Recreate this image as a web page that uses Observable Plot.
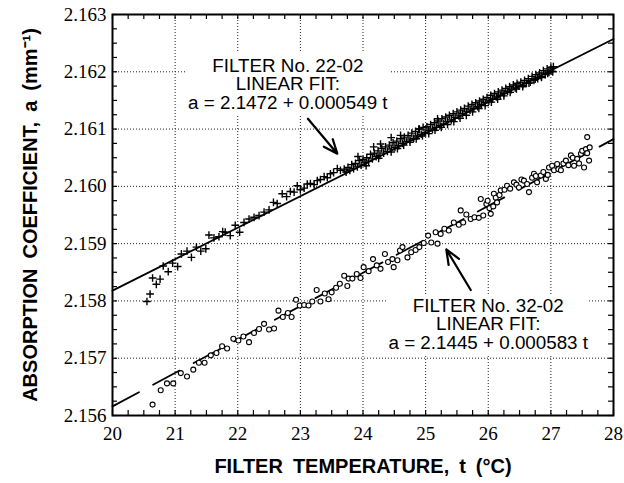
<!DOCTYPE html>
<html><head><meta charset="utf-8">
<script src="https://cdn.jsdelivr.net/npm/d3@7"></script>
<script src="https://cdn.jsdelivr.net/npm/@observablehq/plot@0.6"></script>
<style>html,body{margin:0;padding:0;background:#fff}</style>
</head><body><div id="chart"></div>
<script>
// ---- tick labels ----
const xTicks = [20, 21, 22, 23, 24, 25, 26, 27, 28];
const yTicks = [2.156, 2.157, 2.158, 2.159, 2.160, 2.161, 2.162, 2.163];

// ---- linear fits ----
const fits = [
  {name: "22-02", a0: 2.1472, b: 0.000549},
  {name: "32-02", a0: 2.1445, b: 0.000583}
];

// ---- measurements: filter 22-02 (+) [t, a] ----
const filter22 = [
[20.55,2.15799],[20.60,2.15812],[20.64,2.15840],[20.70,2.15829],[20.76,2.15838],[20.81,2.15861],[20.89,2.15851],[20.96,2.15866],
[21.04,2.15860],[21.10,2.15882],[21.19,2.15887],[21.26,2.15876],[21.34,2.15894],[21.41,2.15887],[21.49,2.15891],[21.54,2.15915],
[21.62,2.15910],[21.70,2.15912],[21.76,2.15921],[21.80,2.15920],[21.88,2.15914],[21.96,2.15932],[22.03,2.15920],[22.10,2.15937],
[22.18,2.15943],[22.26,2.15946],[22.34,2.15949],[22.42,2.15955],[22.50,2.15959],[22.57,2.15972],[22.63,2.15970],[22.71,2.15987],
[22.78,2.15982],[22.84,2.15991],[22.90,2.15990],[22.95,2.16001],[23.00,2.15994],[23.06,2.15997],[23.11,2.16004],[23.16,2.16005],
[23.22,2.16003],[23.27,2.16010],[23.32,2.16012],[23.38,2.16017],[23.43,2.16015],[23.48,2.16022],[23.53,2.16024],[23.59,2.16031],
[23.64,2.16028],
[23.70,2.16030],[23.73,2.16025],[23.76,2.16033],[23.79,2.16028],[23.82,2.16038],[23.85,2.16031],[23.88,2.16040],[23.91,2.16034],
[23.92,2.16052],[23.94,2.16045],[23.97,2.16037],[24.00,2.16047],[24.03,2.16041],[24.05,2.16036],[24.06,2.16050],[24.09,2.16044],
[24.12,2.16056],[24.15,2.16048],[24.17,2.16069],[24.18,2.16058],[24.21,2.16052],[24.24,2.16062],[24.25,2.16049],[24.27,2.16054],
[24.28,2.16074],[24.30,2.16066],[24.33,2.16058],[24.36,2.16069],[24.39,2.16061],[24.42,2.16072],[24.45,2.16065],[24.45,2.16060],
[24.45,2.16085],[24.48,2.16076],[24.51,2.16068],[24.54,2.16079],[24.55,2.16066],[24.57,2.16071],[24.60,2.16083],[24.60,2.16089],
[24.63,2.16075],[24.65,2.16072],[24.66,2.16086],[24.69,2.16078],[24.72,2.16089],[24.75,2.16081],[24.75,2.16077],[24.78,2.16093],
[24.81,2.16084],[24.84,2.16096],[24.85,2.16083],[24.87,2.16088],[24.89,2.16100],[24.90,2.16100],[24.93,2.16091],[24.95,2.16088],
[24.96,2.16103],[24.99,2.16094],[25.02,2.16104],[25.05,2.16097],[25.05,2.16092],[25.08,2.16108],[25.11,2.16100],[25.14,2.16111],
[25.15,2.16098],[25.17,2.16103],[25.19,2.16118],[25.20,2.16114],[25.23,2.16106],[25.25,2.16103],[25.26,2.16118],[25.29,2.16109],
[25.32,2.16121],[25.35,2.16113],[25.35,2.16108],[25.38,2.16124],[25.41,2.16116],[25.44,2.16127],[25.45,2.16113],[25.47,2.16120],
[25.50,2.16130],[25.53,2.16123],[25.55,2.16119],[25.56,2.16133],[25.59,2.16127],[25.62,2.16136],[25.65,2.16130],[25.65,2.16124],
[25.68,2.16140],[25.71,2.16133],[25.74,2.16143],[25.75,2.16130],[25.77,2.16136],[25.80,2.16146],[25.83,2.16139],[25.85,2.16136],
[25.86,2.16149],[25.89,2.16143],[25.92,2.16152],[25.95,2.16146],[25.95,2.16141],[25.98,2.16155],[26.01,2.16149],[26.04,2.16159],
[26.05,2.16147],[26.07,2.16152],[26.10,2.16162],[26.13,2.16156],[26.15,2.16152],[26.16,2.16165],[26.19,2.16159],[26.22,2.16168],
[26.25,2.16162],[26.25,2.16158],[26.28,2.16171],[26.31,2.16166],[26.34,2.16174],[26.35,2.16164],[26.37,2.16169],[26.40,2.16177],
[26.43,2.16172],[26.45,2.16170],[26.46,2.16180],[26.49,2.16175],[26.52,2.16182],[26.55,2.16176],[26.55,2.16174],[26.58,2.16185],
[26.61,2.16180],[26.64,2.16188],[26.65,2.16180],[26.67,2.16182],[26.70,2.16192],[26.73,2.16185],[26.75,2.16187],[26.76,2.16195],
[26.79,2.16188],[26.82,2.16198],[26.85,2.16192],[26.85,2.16190],[26.88,2.16202],[26.91,2.16195],[26.94,2.16205],[26.95,2.16197],
[26.97,2.16199],[27.00,2.16208],[27.02,2.16201],[27.03,2.16200],[27.04,2.16209]
];

// ---- measurements: filter 32-02 (o) [t, a] ----
const filter32 = [
[20.64,2.15619],[20.77,2.15644],[20.87,2.15656],[20.97,2.15656],[21.09,2.15674],[21.19,2.15668],[21.29,2.15680],[21.38,2.15692],
[21.47,2.15692],[21.57,2.15705],[21.66,2.15709],[21.75,2.15721],[21.83,2.15717],[21.93,2.15734],[22.01,2.15731],[22.09,2.15738],
[22.18,2.15728],[22.26,2.15744],[22.34,2.15751],[22.42,2.15760],[22.50,2.15750],[22.58,2.15752],[22.65,2.15783],[22.72,2.15772],
[22.80,2.15779],[22.86,2.15772],[22.93,2.15802],[22.99,2.15792],[23.06,2.15793],[23.13,2.15792],[23.19,2.15799],[23.26,2.15819],
[23.32,2.15799],[23.39,2.15813],[23.45,2.15803],[23.50,2.15815],[23.57,2.15823],[23.63,2.15830],[23.70,2.15844],[23.75,2.15826],
[23.77,2.15839],[23.83,2.15839],[23.90,2.15847],[23.96,2.15840],[24.01,2.15859],[24.09,2.15852],[24.16,2.15873],[24.22,2.15862],
[24.28,2.15856],[24.35,2.15882],[24.40,2.15868],[24.47,2.15873],[24.49,2.15859],[24.55,2.15871],[24.59,2.15888],[24.63,2.15894],
[24.71,2.15876],[24.77,2.15885],[24.84,2.15889],[24.90,2.15894],[24.97,2.15901],[25.04,2.15914],[25.09,2.15902],[25.16,2.15920],
[25.19,2.15900],[25.24,2.15917],[25.30,2.15926],[25.37,2.15923],[25.45,2.15937],[25.53,2.15933],[25.56,2.15958],[25.60,2.15937],
[25.65,2.15951],[25.72,2.15943],[25.78,2.15946],[25.85,2.15945],[25.88,2.15978],[25.92,2.15949],[25.97,2.15969],[25.99,2.15975],
[26.02,2.15962],[26.04,2.15952],[26.08,2.15965],[26.09,2.15987],[26.12,2.15980],[26.14,2.15972],[26.18,2.15985],[26.20,2.15993],
[26.26,2.15994],[26.30,2.16001],[26.35,2.15996],[26.41,2.16007],[26.45,2.16003],[26.49,2.15998],[26.53,2.16012],[26.57,2.16010],
[26.62,2.16004],[26.65,2.15990],[26.70,2.16015],[26.73,2.16022],[26.76,2.16018],[26.78,2.16007],[26.84,2.16019],[26.88,2.16025],
[26.92,2.16013],[26.95,2.16020],[26.97,2.16033],[27.02,2.16036],[27.05,2.16028],[27.10,2.16039],[27.12,2.16030],[27.16,2.16028],
[27.20,2.16040],[27.24,2.16045],[27.28,2.16037],[27.32,2.16054],[27.35,2.16050],[27.37,2.16036],[27.42,2.16048],[27.45,2.16040],
[27.48,2.16057],[27.50,2.16062],[27.53,2.16033],[27.56,2.16065],[27.58,2.16086],[27.58,2.16058],[27.61,2.16045],[27.62,2.16068]
];

// ---- annotation texts ----
const noteText = [
  "FILTER No. 22-02\nLINEAR FIT:\na = 2.1472 + 0.000549 t",
  "FILTER No. 32-02\nLINEAR FIT:\na = 2.1445 + 0.000583 t"
];
// annotation anchors (data units): label centre, arrow tail/head, white box behind label
const noteAnchor = [
  {lx: 22.80, la: 2.16178, tx: 23.12, ta: 2.16118, hx: 23.59, ha: 2.16057, bx1: 21.18, bx2: 24.44, by1: 2.16125, by2: 2.16234},
  {lx: 26.00, la: 2.15759, tx: 25.72, ta: 2.15819, hx: 25.33, ha: 2.15890, bx1: 24.38, bx2: 27.60, by1: 2.15703, by2: 2.15809}
];

const xTitle = "FILTER\u2002TEMPERATURE,\u2002t\u2002(°C)";
const yTitle = "ABSORPTION\u2002COEFFICIENT,\u2002a\u2002(mm\u207B\u00B9)";

// ---- layout ----
const W = 624, H = 483, ML = 112, MR = 11, MT = 14, MB = 68;
const xDom = [20, 28], yDom = [2.156, 2.163];
const perPxX = (xDom[1] - xDom[0]) / (W - ML - MR);
const perPxY = (yDom[1] - yDom[0]) / (H - MT - MB);
const TICK = 5;
const xMinor = d3.range(0, 33).map(i => xDom[0] + i * 0.25);
const yMinor = d3.range(0, 29).map(i => yDom[0] + i * 0.00025);
const notes = noteText.map((s, i) => ({label: s, ...noteAnchor[i]}));
const fitPts = f => xDom.map(t => ({t, a: f.a0 + f.b * t}));

const serif = "'Liberation Serif','Times New Roman',Times,serif";
const sans = "'Liberation Sans',Arial,Helvetica,sans-serif";

const chart = Plot.plot({
  width: W, height: H,
  marginLeft: ML, marginRight: MR, marginTop: MT, marginBottom: MB,
  style: {fontFamily: serif, fontSize: "19px", color: "#000", background: "#fff", overflow: "visible"},
  x: {domain: xDom, ticks: xTicks, tickFormat: d => String(d), tickSize: 0, tickPadding: 11, label: null},
  y: {domain: yDom, ticks: yTicks, tickFormat: d3.format(".3f"), tickSize: 0, tickPadding: 6, label: null},
  marks: [
    Plot.ruleX(xTicks.slice(1, -1), {stroke: "#222", strokeWidth: 1, strokeDasharray: "1,2"}),
    Plot.ruleY(yTicks.slice(1, -1), {stroke: "#222", strokeWidth: 1, strokeDasharray: "1,2"}),
    Plot.rect(notes, {x1: "bx1", x2: "bx2", y1: "by1", y2: "by2", fill: "#fff"}),
    Plot.line(fitPts(fits[0]), {x: "t", y: "a", stroke: "#000", strokeWidth: 1.8}),
    Plot.line(fitPts(fits[1]), {x: "t", y: "a", stroke: "#000", strokeWidth: 1.8, strokeDasharray: "30,16"}),
    Plot.dot(filter22, {x: d => d[0], y: d => d[1], symbol: "plus", r: 2.6, stroke: "#000", fill: "none", strokeWidth: 1.4}),
    Plot.dot(filter32, {x: d => d[0], y: d => d[1], r: 2.5, stroke: "#000", fill: "#fff", strokeWidth: 1.1}),
    Plot.arrow(notes, {x1: "tx", y1: "ta", x2: "hx", y2: "ha", stroke: "#000", strokeWidth: 2.2, headLength: 11, headAngle: 45}),
    Plot.text(notes, {x: "lx", y: "la", text: "label", fontFamily: sans, fontSize: 18.8, lineHeight: 0.98, fill: "#000"}),
    Plot.frame({stroke: "#000", strokeWidth: 2}),
    Plot.ruleX(xMinor, {x: d => d, y1: yDom[0], y2: yDom[0] + TICK * perPxY, stroke: "#000", strokeWidth: 1.2}),
    Plot.ruleX(xMinor, {x: d => d, y1: yDom[1] - TICK * perPxY, y2: yDom[1], stroke: "#000", strokeWidth: 1.2}),
    Plot.ruleY(yMinor, {y: d => d, x1: xDom[0], x2: xDom[0] + TICK * perPxX, stroke: "#000", strokeWidth: 1.2}),
    Plot.ruleY(yMinor, {y: d => d, x1: xDom[1] - TICK * perPxX, x2: xDom[1], stroke: "#000", strokeWidth: 1.2}),
    Plot.text([xTitle], {frameAnchor: "bottom", dy: 57, text: d => d, fontFamily: sans, fontWeight: "bold", fontSize: 20, fill: "#000"}),
    Plot.text([yTitle], {frameAnchor: "left", dx: -82, rotate: -90, textAnchor: "middle", text: d => d, fontFamily: sans, fontWeight: "bold", fontSize: 20, fill: "#000"})
  ]
});
document.getElementById("chart").appendChild(chart);
</script>
</body></html>
